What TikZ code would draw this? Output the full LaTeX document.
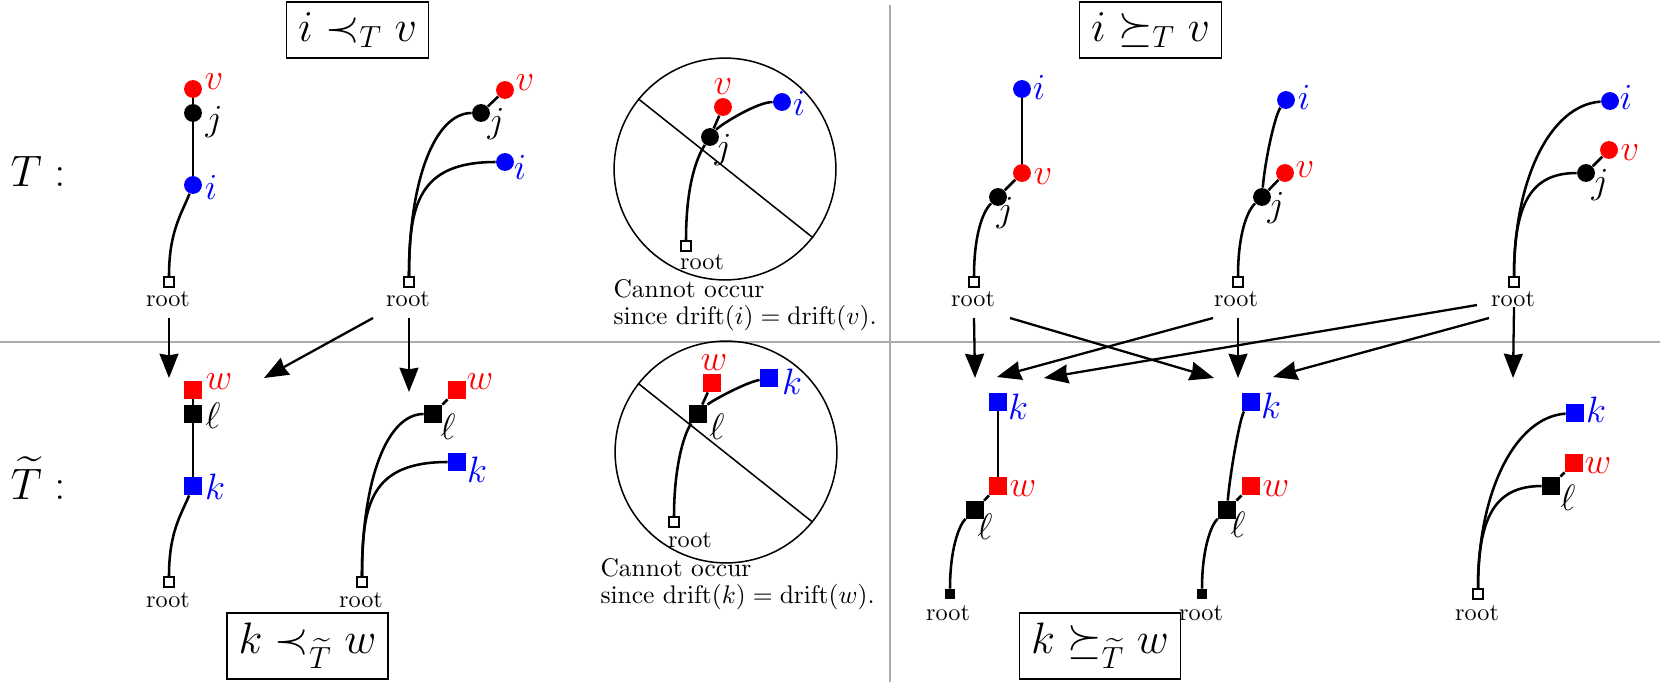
\documentclass[tikz,border=0pt]{standalone}
\usepackage{amsmath,amssymb}
\usetikzlibrary{arrows.meta}
\begin{document}
\begin{tikzpicture}[x=0.39216pt,y=-0.39216pt,
  cnode/.style={circle,fill,minimum size=7pt,inner sep=0pt},
  snode/.style={rectangle,fill,minimum size=7pt,inner sep=0pt},
  rootsq/.style={rectangle,draw=black,fill=white,line width=0.8pt,minimum size=3.9pt,inner sep=0pt},
  rootfill/.style={rectangle,fill=black,minimum size=3.9pt,inner sep=0pt},
  lbl/.style={inner sep=0pt,font=\Large},
  rlbl/.style={inner sep=0pt,font=\fontsize{9.5}{10}\selectfont},
  edge/.style={line width=1pt},
  thinl/.style={line width=0.6pt},
  arr/.style={line width=0.9pt,-{Stealth[length=9.5pt,width=7.4pt,inset=0.6pt]}},
  gline/.style={draw=black!33,line width=1pt},
  relbox/.style={draw,line width=0.6pt,inner xsep=4.5pt,inner ysep=4pt,font=\LARGE},
  ring/.style={circle,draw,line width=0.6pt,minimum size=87pt,inner sep=0pt},
  note/.style={align=left,anchor=west,inner sep=0pt,font=\fontsize{10}{10.6}\selectfont}
]
\useasboundingbox (0,0) rectangle (1660,682);

% separators
\coordinate (gL) at (0,342); \coordinate (gR) at (1660,342);
\coordinate (gT) at (890,5); \coordinate (gB) at (890,682);
\draw[gline] (gL) -- (gR);
\draw[gline] (gT) -- (gB);

% row labels and relation boxes
\node[inner sep=0pt,font=\LARGE] (Tlab) at (38,171) {$T:$};
\node[inner sep=0pt,font=\LARGE] (Ttlab) at (38,478) {$\widetilde{T}:$};
\node[relbox] (box1) at (357.5,30) {$i \prec_T v$};
\node[relbox] (box2) at (1150.5,30) {$i \succeq_T v$};
\node[relbox] (box3) at (307.5,646) {$k \prec_{\widetilde{T}} w$};
\node[relbox] (box4) at (1100,646) {$k \succeq_{\widetilde{T}} w$};

% ---------- top-left tree 1
\node[cnode,red] (t1v) at (193,89) {};
\node[cnode] (t1j) at (193,113) {};
\node[cnode,blue] (t1i) at (193,185) {};
\node[rootsq] (t1r) at (169,282) {};
\node[lbl,red] (t1vl) at (214,82) {$v$};
\node[lbl] (t1jl) at (214,122) {$j$};
\node[lbl,blue] (t1il) at (211,187) {$i$};
\node[rlbl] (t1rl) at (168,299) {root};
\draw[edge] (t1v) -- (t1j);
\draw[edge] (t1j) -- (t1i);
\draw[edge] (t1r) .. controls (169,232) and (181,215) .. (t1i);

% ---------- top-left tree 2
\node[cnode,red] (t2v) at (505,90) {};
\node[cnode] (t2j) at (481,113) {};
\node[cnode,blue] (t2i) at (505,162) {};
\node[rootsq] (t2r) at (409,282) {};
\node[lbl,red] (t2vl) at (525,83) {$v$};
\node[lbl] (t2jl) at (496,124) {$j$};
\node[lbl,blue] (t2il) at (520,167) {$i$};
\node[rlbl] (t2rl) at (408,299) {root};
\draw[edge] (t2j) -- (t2v);
\draw[edge] (t2r) .. controls (409,180) and (435,113) .. (t2j);
\draw[edge] (t2r) .. controls (409,205) and (418,162) .. (t2i);

% ---------- top circle
\node[ring] (ctop) at (725,169) {};
\draw[thinl] (ctop.141.5) -- (ctop.-38.5);
\node[cnode,red] (ctv) at (723,107) {};
\node[cnode,blue] (cti) at (782,102) {};
\node[cnode] (ctj) at (710,137) {};
\node[rootsq] (ctr) at (686,246) {};
\node[lbl,red] (ctvl) at (723,87) {$v$};
\node[lbl,blue] (ctil) at (799,103) {$i$};
\node[lbl] (ctjl) at (723,150) {$j$};
\node[rlbl] (ctrl) at (702,262) {root};
\draw[edge] (ctj) -- (ctv);
\draw[edge] (ctr) .. controls (686,190) and (695,160) .. (ctj);
\draw[edge] (ctj) .. controls (720,125) and (757,102) .. (cti);
\node[note] (ctnote) at (613,305.5) {Cannot occur\\since $\mathrm{drift}(i) = \mathrm{drift}(v)$.};

% ---------- top-right tree 3
\node[cnode,blue] (t3i) at (1022,89) {};
\node[cnode,red] (t3v) at (1022,173) {};
\node[cnode] (t3j) at (998,197) {};
\node[rootsq] (t3r) at (974,282) {};
\node[lbl,blue] (t3il) at (1039,87) {$i$};
\node[lbl,red] (t3vl) at (1043,177) {$v$};
\node[lbl] (t3jl) at (1005,213) {$j$};
\node[rlbl] (t3rl) at (973,299) {root};
\draw[edge] (t3i) -- (t3v);
\draw[edge] (t3v) -- (t3j);
\draw[edge] (t3r) .. controls (974,237) and (982,212) .. (t3j);

% ---------- top-right tree 4
\node[cnode,blue] (t4i) at (1286,100) {};
\node[cnode,red] (t4v) at (1285,173) {};
\node[cnode] (t4j) at (1262,197) {};
\node[rootsq] (t4r) at (1238,282) {};
\node[lbl,blue] (t4il) at (1304,97) {$i$};
\node[lbl,red] (t4vl) at (1305,170) {$v$};
\node[lbl] (t4jl) at (1276,208) {$j$};
\node[rlbl] (t4rl) at (1236,299) {root};
\draw[edge] (t4v) -- (t4j);
\draw[edge] (t4r) .. controls (1238,237) and (1246,212) .. (t4j);
\draw[edge] (t4j) .. controls (1265,160) and (1275,115) .. (t4i);

% ---------- top-right tree 5
\node[cnode,blue] (t5i) at (1610,101) {};
\node[cnode,red] (t5v) at (1609,150) {};
\node[cnode] (t5j) at (1586,173) {};
\node[rootsq] (t5r) at (1514,282) {};
\node[lbl,blue] (t5il) at (1626,97) {$i$};
\node[lbl,red] (t5vl) at (1630,153) {$v$};
\node[lbl] (t5jl) at (1600,185) {$j$};
\node[rlbl] (t5rl) at (1513,299) {root};
\draw[edge] (t5v) -- (t5j);
\draw[edge] (t5r) .. controls (1514,180) and (1550,105) .. (t5i);
\draw[edge] (t5r) .. controls (1514,205) and (1530,173) .. (t5j);

% ---------- bottom-left tree 1
\node[snode,red] (b1w) at (193,390) {};
\node[snode] (b1l) at (193,414) {};
\node[snode,blue] (b1k) at (193,486) {};
\node[rootsq] (b1r) at (169,582) {};
\node[lbl,red] (b1wl) at (219,382) {$w$};
\node[lbl] (b1ll) at (213,416) {$\ell$};
\node[lbl,blue] (b1kl) at (215,487) {$k$};
\node[rlbl] (b1rl) at (168,600) {root};
\draw[edge] (b1w) -- (b1l);
\draw[edge] (b1l) -- (b1k);
\draw[edge] (b1r) .. controls (169,532) and (181,515) .. (b1k);

% ---------- bottom-left tree 2
\node[snode,red] (b2w) at (457,390) {};
\node[snode] (b2l) at (433,414) {};
\node[snode,blue] (b2k) at (457,462) {};
\node[rootsq] (b2r) at (362,582) {};
\node[lbl,red] (b2wl) at (480,382) {$w$};
\node[lbl] (b2ll) at (448,427) {$\ell$};
\node[lbl,blue] (b2kl) at (477,470) {$k$};
\node[rlbl] (b2rl) at (361,600) {root};
\draw[edge] (b2l) -- (b2w);
\draw[edge] (b2r) .. controls (362,480) and (387,414) .. (b2l);
\draw[edge] (b2r) .. controls (362,505) and (370,462) .. (b2k);

% ---------- bottom circle
\node[ring] (cbot) at (726,452) {};
\draw[thinl] (cbot.142) -- (cbot.-39);
\node[snode,red] (cbw) at (712,383) {};
\node[snode,blue] (cbk) at (769,378) {};
\node[snode] (cbl) at (698,414) {};
\node[rootsq] (cbr) at (674,522) {};
\node[lbl,red] (cbwl) at (714,363) {$w$};
\node[lbl,blue] (cbkl) at (792,382) {$k$};
\node[lbl] (cbll) at (717,427) {$\ell$};
\node[rlbl] (cbrl) at (690,540) {root};
\draw[edge] (cbl) -- (cbw);
\draw[edge] (cbr) .. controls (674,470) and (683,435) .. (cbl);
\draw[edge] (cbl) .. controls (710,402) and (744,383) .. (cbk);
\node[note] (cbnote) at (600,584) {Cannot occur\\since $\mathrm{drift}(k) = \mathrm{drift}(w)$.};

% ---------- bottom-right tree 3
\node[snode,blue] (b3k) at (998,402) {};
\node[snode,red] (b3w) at (998,486) {};
\node[snode] (b3l) at (975,510) {};
\node[rootfill] (b3r) at (950,594) {};
\node[lbl,blue] (b3kl) at (1018,407) {$k$};
\node[lbl,red] (b3wl) at (1023,489) {$w$};
\node[lbl] (b3ll) at (985,527) {$\ell$};
\node[rlbl] (b3rl) at (948,613) {root};
\draw[edge] (b3k) -- (b3w);
\draw[edge] (b3w) -- (b3l);
\draw[edge] (b3r) .. controls (950,549) and (959,525) .. (b3l);

% ---------- bottom-right tree 4
\node[snode,blue] (b4k) at (1251,402) {};
\node[snode,red] (b4w) at (1251,486) {};
\node[snode] (b4l) at (1227,510) {};
\node[rootfill] (b4r) at (1202,594) {};
\node[lbl,blue] (b4kl) at (1271,406) {$k$};
\node[lbl,red] (b4wl) at (1276,489) {$w$};
\node[lbl] (b4ll) at (1238,525) {$\ell$};
\node[rlbl] (b4rl) at (1201,613) {root};
\draw[edge] (b4w) -- (b4l);
\draw[edge] (b4r) .. controls (1202,549) and (1211,525) .. (b4l);
\draw[edge] (b4l) .. controls (1230,473) and (1240,417) .. (b4k);

% ---------- bottom-right tree 5
\node[snode,blue] (b5k) at (1575,413) {};
\node[snode,red] (b5w) at (1574,463) {};
\node[snode] (b5l) at (1551,486) {};
\node[rootsq] (b5r) at (1478,594) {};
\node[lbl,blue] (b5kl) at (1596,410) {$k$};
\node[lbl,red] (b5wl) at (1598,466) {$w$};
\node[lbl] (b5ll) at (1568,498) {$\ell$};
\node[rlbl] (b5rl) at (1477,613) {root};
\draw[edge] (b5w) -- (b5l);
\draw[edge] (b5r) .. controls (1478,492) and (1515,417) .. (b5k);
\draw[edge] (b5r) .. controls (1478,517) and (1495,486) .. (b5l);

% ---------- arrows
\coordinate (a1s) at (169,318);  \coordinate (a1e) at (169,378);
\coordinate (a2s) at (373,318);  \coordinate (a2e) at (264,378);
\coordinate (a3s) at (409,318);  \coordinate (a3e) at (409,392);
\coordinate (a4s) at (974,318);  \coordinate (a4e) at (975,378);
\coordinate (a5s) at (1010,318); \coordinate (a5e) at (1214,378);
\coordinate (a6s) at (1238,318); \coordinate (a6e) at (1238,378);
\coordinate (a7s) at (1213,318); \coordinate (a7e) at (997,377);
\coordinate (a8s) at (1477,305); \coordinate (a8e) at (1044,378);
\coordinate (a9s) at (1489,318); \coordinate (a9e) at (1273,377);
\coordinate (a10s) at (1514,307); \coordinate (a10e) at (1513,378);
\foreach \n in {1,...,10} {\draw[arr] (a\n s) -- (a\n e);}
\end{tikzpicture}
\end{document}
